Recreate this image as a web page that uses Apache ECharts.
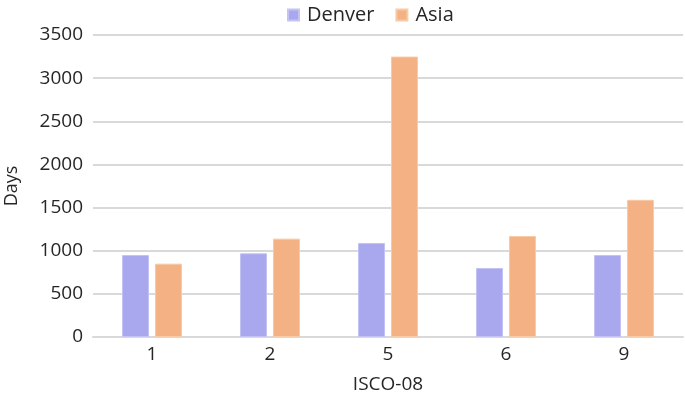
<!DOCTYPE html>
<html>
<head>
<meta charset="utf-8">
<script src="https://cdn.jsdelivr.net/npm/echarts@6/dist/echarts.min.js"></script>
<style>
  html, body { margin: 0; padding: 0; background: #fff; }
  #chart { width: 685px; height: 395px; }
</style>
</head>
<body>
<div id="chart"></div>
<script>
const categories = ['1', '2', '5', '6', '9'];
const denver = [950, 970, 1090, 800, 950];
const asia = [850, 1140, 3250, 1170, 1590];

const FONT = '"Open Sans", sans-serif';

const myChart = echarts.init(document.getElementById('chart'));

const option = {
  animation: false,
  textStyle: { fontFamily: FONT },
  legend: {
    data: ['Denver', 'Asia'],
    top: 0,
    left: 282,
    itemWidth: 11,
    itemHeight: 11,
    itemGap: 21,
    icon: 'rect',
    textStyle: { fontSize: 20, color: '#262626', fontFamily: FONT, padding: [0, 0, 0, 3] }
  },
  grid: {
    left: 93,
    right: 2,
    top: 35,
    bottom: 58,
    outerBoundsMode: 'none'
  },
  xAxis: {
    type: 'category',
    data: categories,
    name: 'ISCO-08',
    nameLocation: 'middle',
    nameGap: 38,
    nameTextStyle: { fontSize: 19, color: '#262626', fontFamily: FONT },
    axisLine: { lineStyle: { color: '#d9d9d9', width: 2 } },
    axisTick: { show: false },
    axisLabel: { fontSize: 19, color: '#262626', margin: 8, fontFamily: FONT }
  },
  yAxis: {
    type: 'value',
    min: 0,
    max: 3500,
    interval: 500,
    name: 'Days',
    nameLocation: 'middle',
    nameGap: 72,
    nameTextStyle: { fontSize: 18, color: '#262626', fontFamily: FONT },
    axisLine: { show: false },
    axisTick: { show: false },
    axisLabel: {
      fontSize: 19,
      color: '#262626',
      margin: 10,
      fontFamily: FONT,
      formatter: (v) => String(v)
    },
    splitLine: { lineStyle: { color: '#d9d9d9', width: 2 } }
  },
  series: [
    {
      name: 'Denver',
      type: 'bar',
      data: denver,
      barWidth: 27,
      barGap: '22%',
      itemStyle: { color: '#a9a8ee', borderColor: '#c4c3f4', borderWidth: 1 }
    },
    {
      name: 'Asia',
      type: 'bar',
      data: asia,
      barWidth: 27,
      itemStyle: { color: '#f4b183', borderColor: '#f8caa6', borderWidth: 1 }
    }
  ]
};

myChart.setOption(option);
</script>
</body>
</html>
